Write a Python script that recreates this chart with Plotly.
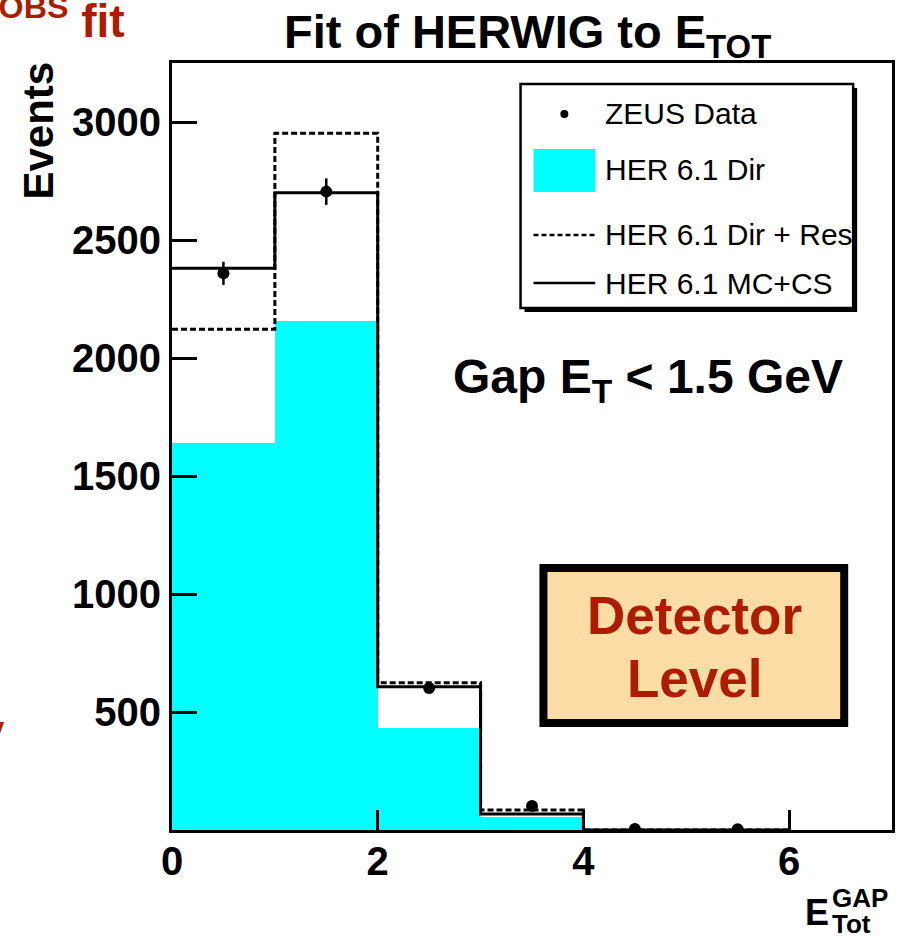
import plotly.graph_objects as go

# ---------------- data ----------------
bin_edges = [0, 1, 2, 3, 4, 5, 6]
bin_centers = [0.5, 1.5, 2.5, 3.5, 4.5, 5.5]
her_dir = [1638, 2158, 434, 57, 0, 0]            # HER 6.1 Dir (cyan fill)
her_dir_res = [2122, 2952, 624, 85, 0, 0]        # HER 6.1 Dir + Res (dashed)
her_mc_cs = [2380, 2700, 607, 68, 0, 0]          # HER 6.1 MC+CS (solid)
zeus_data = [2359, 2705, 602, 102, 4, 3]         # ZEUS Data
zeus_err = [49, 56, 15, 8, 2, 2]

x_ticks = [0, 2, 4, 6]
y_ticks = [500, 1000, 1500, 2000, 2500, 3000]

# ---------------- layout helpers ----------------
W, H = 903, 943
L, R, T, B = 172, 895, 63, 830
FONT = "Arial, Liberation Sans, Helvetica, sans-serif"
RED = "#AE1C00"


def px(x):
    return (x - L) / (R - L)


def py(y):
    return (B - y) / (B - T)


def step(vals):
    return bin_edges, list(vals) + [vals[-1]]


fig = go.Figure()

fig.add_trace(go.Bar(x=bin_centers, y=her_dir, width=1.0,
                     marker=dict(color="#00FFFF", line=dict(width=0)),
                     name="HER 6.1 Dir", showlegend=False))

sx, sy = step(her_dir_res)
fig.add_trace(go.Scatter(x=sx, y=sy, mode="lines", line_shape="hv",
                         line=dict(color="black", width=3, dash="6px,3px"),
                         showlegend=False))
sx, sy = step(her_mc_cs)
fig.add_trace(go.Scatter(x=sx, y=sy, mode="lines", line_shape="hv",
                         line=dict(color="black", width=3),
                         showlegend=False))
fig.add_trace(go.Scatter(x=bin_centers, y=zeus_data, mode="markers",
                         marker=dict(color="black", size=12),
                         error_y=dict(type="data", array=zeus_err, color="black",
                                      thickness=2.5, width=0),
                         showlegend=False))

shapes = []
annotations = []

# legend box with shadow
lx0, ly0, lx1, ly1 = 522, 84, 856, 308
shapes.append(dict(type="rect", xref="paper", yref="paper",
                   x0=px(lx0 + 4), x1=px(lx1 + 4), y0=py(ly0 + 4), y1=py(ly1 + 4),
                   fillcolor="black", line=dict(width=0)))
shapes.append(dict(type="rect", xref="paper", yref="paper",
                   x0=px(lx0), x1=px(lx1), y0=py(ly0), y1=py(ly1),
                   fillcolor="white", line=dict(color="black", width=2.5)))
# legend symbols
shapes.append(dict(type="circle", xref="paper", yref="paper",
                   x0=px(562), x1=px(570), y0=py(110), y1=py(118),
                   fillcolor="black", line=dict(width=0)))
shapes.append(dict(type="rect", xref="paper", yref="paper",
                   x0=px(535), x1=px(597), y0=py(149), y1=py(192),
                   fillcolor="#00FFFF", line=dict(width=0)))
shapes.append(dict(type="line", xref="paper", yref="paper",
                   x0=px(535), x1=px(597), y0=py(235), y1=py(235),
                   line=dict(color="black", width=2.5, dash="5px,3px")))
shapes.append(dict(type="line", xref="paper", yref="paper",
                   x0=px(535), x1=px(597), y0=py(283), y1=py(283),
                   line=dict(color="black", width=2.5)))
legend_labels = ["ZEUS Data", "HER 6.1 Dir", "HER 6.1 Dir + Res", "HER 6.1 MC+CS"]
legend_y = [113, 169, 234, 283]
for lab, yy in zip(legend_labels, legend_y):
    annotations.append(dict(text=lab, xref="paper", yref="paper",
                            x=px(605), y=py(yy), xanchor="left", yanchor="middle",
                            showarrow=False, font=dict(family=FONT, size=30, color="black")))

# Detector Level box
shapes.append(dict(type="rect", xref="paper", yref="paper",
                   x0=px(545), x1=px(847), y0=py(568), y1=py(723),
                   fillcolor="#FDDCA6", line=dict(color="black", width=8)))
annotations.append(dict(text="<b>Detector</b>", xref="paper", yref="paper",
                        x=px(697), y=py(615), xanchor="center", yanchor="middle",
                        showarrow=False, font=dict(family=FONT, size=53, color=RED)))
annotations.append(dict(text="<b>Level</b>", xref="paper", yref="paper",
                        x=px(697), y=py(678), xanchor="center", yanchor="middle",
                        showarrow=False, font=dict(family=FONT, size=53, color=RED)))

# Gap ET text
annotations.append(dict(text="<b>Gap E<sub>T</sub> &lt; 1.5 GeV</b>", xref="paper", yref="paper",
                        x=px(650), y=py(380), xanchor="center", yanchor="middle",
                        showarrow=False, font=dict(family=FONT, size=48, color="black")))

# Title
annotations.append(dict(text="<b>Fit of HERWIG to E<sub>TOT</sub></b>", xref="paper", yref="paper",
                        x=px(529), y=py(35), xanchor="center", yanchor="middle",
                        showarrow=False, font=dict(family=FONT, size=47, color="black")))

# y axis title
annotations.append(dict(text="<b>Events</b>", xref="paper", yref="paper",
                        x=px(37), y=py(131), xanchor="center", yanchor="middle",
                        textangle=-90, showarrow=False,
                        font=dict(family=FONT, size=42, color="black")))

# x axis title E^GAP_Tot
annotations.append(dict(text="<b>E</b>", xref="paper", yref="paper",
                        x=px(806), y=py(913), xanchor="left", yanchor="middle",
                        showarrow=False, font=dict(family=FONT, size=36, color="black")))
annotations.append(dict(text="<b>GAP</b>", xref="paper", yref="paper",
                        x=px(833), y=py(898), xanchor="left", yanchor="middle",
                        showarrow=False, font=dict(family=FONT, size=26, color="black")))
annotations.append(dict(text="<b>Tot</b>", xref="paper", yref="paper",
                        x=px(833), y=py(924), xanchor="left", yanchor="middle",
                        showarrow=False, font=dict(family=FONT, size=26, color="black")))

# cropped red slide text
annotations.append(dict(text="<b>x<sup>OBS</sup> fit</b>", xref="paper", yref="paper",
                        x=px(127), y=py(18), xanchor="right", yanchor="middle",
                        showarrow=False, font=dict(family=FONT, size=46, color=RED)))
annotations.append(dict(text="<b>v</b>", xref="paper", yref="paper",
                        x=px(6), y=py(730), xanchor="right", yanchor="middle",
                        showarrow=False, font=dict(family=FONT, size=40, color=RED)))

fig.update_layout(
    width=W, height=H,
    margin=dict(l=L, r=W - R, t=T, b=H - B, pad=0),
    paper_bgcolor="white", plot_bgcolor="white",
    showlegend=False, bargap=0,
    shapes=shapes, annotations=annotations,
    font=dict(family=FONT, color="black"),
)
fig.update_xaxes(range=[0, 7], tickvals=x_ticks, ticktext=[f"<b>{v}</b>" for v in x_ticks],
                 ticks="inside", ticklen=20, tickwidth=3, tickcolor="black",
                 showline=True, linecolor="black", linewidth=3, mirror=True,
                 showgrid=False, zeroline=False, ticklabelstandoff=-6,
                 tickfont=dict(family=FONT, size=40, color="black"))
fig.update_yaxes(range=[0, 3250], tickvals=y_ticks, ticktext=[f"<b>{v}</b>" for v in y_ticks],
                 ticks="inside", ticklen=25, tickwidth=3, tickcolor="black",
                 showline=True, linecolor="black", linewidth=3, mirror=True,
                 showgrid=False, zeroline=False, ticklabelstandoff=0,
                 tickfont=dict(family=FONT, size=40, color="black"))

fig.write_html("out.html", config={"displayModeBar": False},
               post_script="document.body.style.margin='0';document.body.style.overflow='hidden';")
